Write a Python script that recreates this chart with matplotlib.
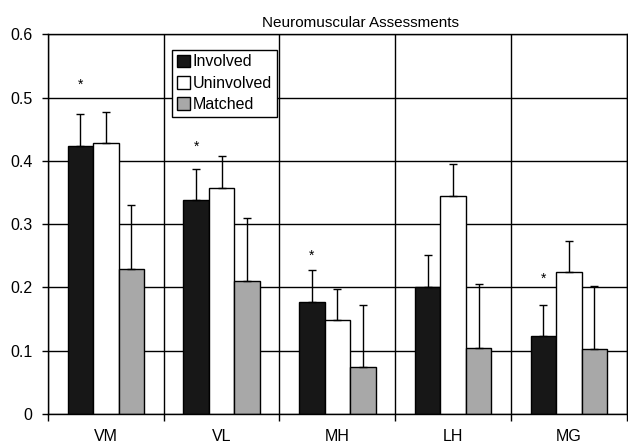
import numpy as np
import matplotlib
matplotlib.use("Agg")
import matplotlib.pyplot as plt

plt.rcParams['font.family'] = ['Liberation Sans', 'DejaVu Sans']

muscles = ["VM", "VL", "MH", "LH", "MG"]
series_names = ["Involved", "Uninvolved", "Matched"]
involved = [0.424, 0.338, 0.177, 0.201, 0.123]
uninvolved = [0.428, 0.358, 0.148, 0.345, 0.225]
matched = [0.230, 0.210, 0.074, 0.105, 0.103]
involved_err = [0.050, 0.049, 0.050, 0.050, 0.049]
uninvolved_err = [0.050, 0.050, 0.049, 0.050, 0.049]
matched_err = [0.101, 0.100, 0.099, 0.101, 0.100]
significant = [True, True, True, False, True]  # * above involved bar
star_gap = [0.035, 0.025, 0.012, 0.0, 0.030]

colors = ["#171717", "#ffffff", "#a8a8a8"]

fig = plt.figure(figsize=(6.28, 4.44), dpi=100)
ax = fig.add_axes([0.0764, 0.0676, 0.9216, 0.8547])

x = np.arange(len(muscles))
w = 0.22
data = [(involved, involved_err), (uninvolved, uninvolved_err), (matched, matched_err)]
for k, (vals, errs) in enumerate(data):
    ax.bar(x + (k - 1) * w, vals, w, color=colors[k], edgecolor="black", linewidth=1.0,
           label=series_names[k], zorder=2)
    ax.errorbar(x + (k - 1) * w, vals, yerr=[np.zeros(len(vals)), errs], fmt="none",
                ecolor="black", elinewidth=1.0, capsize=3, capthick=1.0, zorder=3)

for i in range(len(muscles)):
    if significant[i]:
        ax.text(x[i] - w, involved[i] + involved_err[i] + star_gap[i], "*",
                ha="center", va="bottom", fontsize=10)

ax.set_xlim(-0.5, len(muscles) - 0.5)
ax.set_ylim(0, 0.6)
ax.set_yticks(np.arange(0, 0.61, 0.1))
ax.set_yticklabels(["0", "0.1", "0.2", "0.3", "0.4", "0.5", "0.6"])
ax.set_xticks(x)
ax.set_xticklabels(muscles)
ax.set_xticks(np.arange(-0.5, len(muscles)), minor=True)
ax.tick_params(axis="x", which="major", length=0, pad=11, labelsize=11.5)
ax.tick_params(axis="x", which="minor", length=5, width=1.0, direction="out")
ax.tick_params(axis="y", length=4, width=1.0, pad=7, labelsize=11.5)
ax.grid(axis="y", color="black", linewidth=1.0)
ax.grid(axis="x", which="minor", color="black", linewidth=1.0)
ax.set_axisbelow(True)
for s in ax.spines.values():
    s.set_linewidth(1.0)

ax.text(0.54, 1.012, "Neuromuscular Assessments", transform=ax.transAxes,
        ha="center", va="bottom", fontsize=11)

leg = ax.legend(loc="upper left", bbox_to_anchor=(0.214, 0.96), fancybox=False,
                framealpha=1, edgecolor="black", fontsize=11.5, handlelength=0.85,
                handleheight=0.85, handletextpad=0.15, borderpad=0.3, labelspacing=0.4,
                borderaxespad=0)
leg.get_frame().set_linewidth(1.0)

fig.savefig("out.png", dpi=100)
